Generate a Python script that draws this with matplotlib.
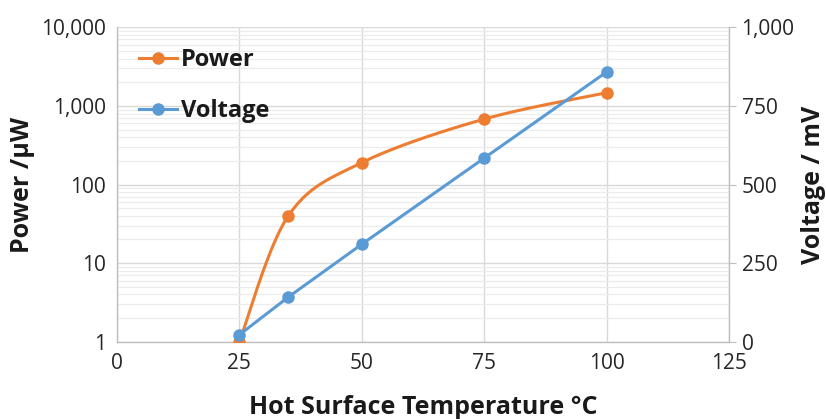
import numpy as np
import matplotlib.pyplot as plt
from matplotlib.ticker import FixedLocator, FuncFormatter, LogLocator, NullFormatter

plt.rcParams['font.family'] = ['Open Sans', 'DejaVu Sans']

# --- DATA ---
temps = [25, 35, 50, 75, 100]
power_uw = [1.0, 40, 190, 680, 1470]
voltage_mv = [22, 142, 310, 584, 858]

orange = '#ED7D31'
blue = '#5B9BD5'
grid_major = '#d9d9d9'
grid_minor = '#ececec'


def smooth_curve(x, y, n=40):
    # Excel-style smoothed line: uniform Catmull-Rom through the points
    # (in x / log10(y) space, since the power axis is logarithmic)
    px = np.asarray(x, float)
    py = np.log10(np.asarray(y, float))
    px = np.concatenate([[px[0]], px, [px[-1]]])
    py = np.concatenate([[py[0]], py, [py[-1]]])
    xs, ys = [], []
    t = np.linspace(0, 1, n)
    for i in range(1, len(px) - 2):
        for p, out in ((px, xs), (py, ys)):
            p0, p1, p2, p3 = p[i - 1], p[i], p[i + 1], p[i + 2]
            out.extend(0.5 * (2 * p1 + (-p0 + p2) * t
                              + (2 * p0 - 5 * p1 + 4 * p2 - p3) * t ** 2
                              + (-p0 + 3 * p1 - 3 * p2 + p3) * t ** 3))
    return np.array(xs), 10 ** np.array(ys)


fig = plt.figure(figsize=(8.26, 4.19), dpi=100)
ax = fig.add_axes([0.1416, 0.1845, 0.7410, 0.7503])
ax2 = ax.twinx()

# power (left, log)
sx, sy = smooth_curve(temps, power_uw)
ax.plot(sx, sy, color=orange, lw=2.2, zorder=3)
ax.plot(temps, power_uw, 'o', color=orange, ms=8, zorder=4)
ax.set_yscale('log')
ax.set_ylim(1, 10000)
ax.set_xlim(0, 125)
ax.set_xticks([0, 25, 50, 75, 100, 125])
ax.yaxis.set_major_locator(FixedLocator([1, 10, 100, 1000, 10000]))
ax.yaxis.set_major_formatter(FuncFormatter(lambda v, p: f'{v:,.0f}'))
ax.yaxis.set_minor_locator(LogLocator(base=10, subs=np.arange(2, 10)))
ax.yaxis.set_minor_formatter(NullFormatter())
ax.grid(True, which='major', color=grid_major, lw=1.0)
ax.grid(True, which='minor', axis='y', color=grid_minor, lw=0.9)
ax.set_axisbelow(True)

# voltage (right, linear)
ax2.plot(temps, voltage_mv, '-o', color=blue, lw=2.2, ms=8, zorder=3)
ax2.set_ylim(0, 1000)
ax2.set_yticks([0, 250, 500, 750, 1000])
ax2.yaxis.set_major_formatter(FuncFormatter(lambda v, p: f'{v:,.0f}'))

for a in (ax, ax2):
    for s in a.spines.values():
        s.set_visible(False)
ax.spines['left'].set_visible(True)
ax.spines['bottom'].set_visible(True)
ax2.spines['right'].set_visible(True)
for s in (ax.spines['left'], ax.spines['bottom'], ax2.spines['right']):
    s.set_color('#bfbfbf')
    s.set_linewidth(1.0)

ax.tick_params(axis='both', which='both', length=0, labelsize=15,
               labelcolor='#262626', pad=8)
ax2.tick_params(axis='y', length=5, color='#bfbfbf', labelsize=15,
                labelcolor='#262626', pad=4)

ax.set_xlabel('Hot Surface Temperature °C', fontsize=18, fontweight='bold',
              color='#1a1a1a', labelpad=15)
ax.set_ylabel('Power /µW', fontsize=18, fontweight='bold', color='#1a1a1a',
              labelpad=4)
ax2.set_ylabel('Voltage / mV', fontsize=18, fontweight='bold', color='#1a1a1a',
               labelpad=5)

h1 = plt.Line2D([], [], color=orange, lw=2.2, marker='o', ms=8)
h2 = plt.Line2D([], [], color=blue, lw=2.2, marker='o', ms=8)
leg = ax2.legend([h1, h2], ['Power', 'Voltage'], loc='upper left',
                 bbox_to_anchor=(0.168, 0.886), bbox_transform=fig.transFigure,
                 frameon=False, prop={'weight': 'bold', 'size': 17},
                 handlelength=1.6, handletextpad=0.2, labelspacing=1.15,
                 borderaxespad=0, borderpad=0)
for t in leg.get_texts():
    t.set_color('#1a1a1a')

fig.savefig('out.png', dpi=100)
